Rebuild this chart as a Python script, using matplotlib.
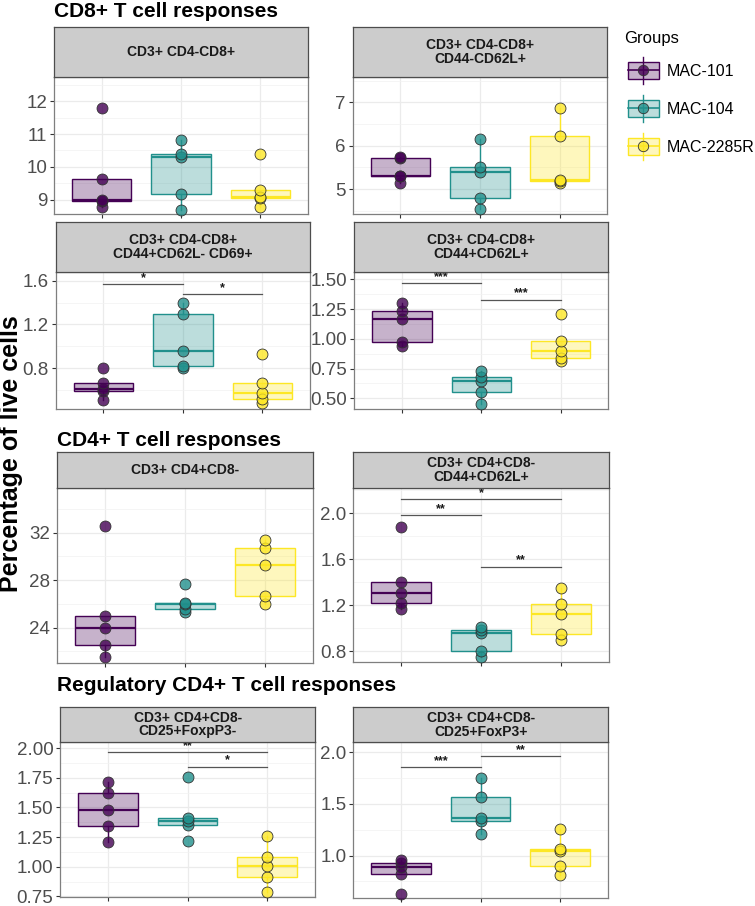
import numpy as np
import matplotlib
matplotlib.use("Agg")
import matplotlib.pyplot as plt
from matplotlib.ticker import FormatStrFormatter, MultipleLocator
from matplotlib.legend_handler import HandlerBase
from matplotlib.patches import Rectangle
from matplotlib.lines import Line2D
from matplotlib.colors import to_rgba

plt.rcParams['font.family'] = ['Liberation Sans', 'DejaVu Sans']

# groups and colours (viridis)
groups = ["MAC-101", "MAC-104", "MAC-2285R"]
colors = ["#440154", "#21908C", "#FDE725"]

# values, one list per group (MAC-101, MAC-104, MAC-2285R)
cd8 = [[8.76, 8.95, 8.98, 9.63, 11.8],
       [8.67, 9.18, 10.31, 10.4, 10.82],
       [8.77, 9.05, 9.08, 9.28, 10.4]]
cd8_cd44n_cd62lp = [[5.15, 5.30, 5.31, 5.72, 5.74],
                    [4.54, 4.80, 5.40, 5.50, 6.15],
                    [5.15, 5.18, 5.20, 6.23, 6.86]]
cd8_cd44p_cd62ln_cd69p = [[0.51, 0.59, 0.61, 0.67, 0.80],
                          [0.80, 0.82, 0.96, 1.30, 1.40],
                          [0.48, 0.52, 0.57, 0.67, 0.93]]
cd8_cd44p_cd62lp = [[0.94, 0.97, 1.17, 1.23, 1.30],
                    [0.45, 0.555, 0.645, 0.675, 0.73],
                    [0.81, 0.84, 0.90, 0.98, 1.21]]
cd4 = [[21.5, 22.5, 24.0, 25.0, 32.6],
       [25.3, 25.6, 26.0, 26.1, 27.7],
       [26.0, 26.7, 29.3, 30.7, 31.4]]
cd4_cd44p_cd62lp = [[1.17, 1.22, 1.31, 1.40, 1.88],
                    [0.755, 0.80, 0.96, 0.985, 1.01],
                    [0.90, 0.95, 1.125, 1.21, 1.35]]
cd4_cd25p_foxp3n = [[1.21, 1.345, 1.48, 1.62, 1.715],
                    [1.22, 1.35, 1.385, 1.415, 1.76],
                    [0.79, 0.91, 1.01, 1.08, 1.26]]
cd4_cd25p_foxp3p = [[0.63, 0.82, 0.89, 0.93, 0.96],
                    [1.21, 1.33, 1.36, 1.57, 1.75],
                    [0.81, 0.90, 1.04, 1.06, 1.26]]

W, H = 755, 906
fig = plt.figure(figsize=(W / 100, H / 100), dpi=100)


def fbox(l, t, r, b):
    return [l / W, 1 - b / H, (r - l) / W, (b - t) / H]


# layout in pixels: plot box (left, top, right, bottom), strip top, y range, ticks
panels = [
    dict(strip="CD3+ CD4-CD8+", data=cd8, box=(54, 77.3, 308, 214.3), stop=26.7,
         ylim=(8.55, 12.73), step=1, fmt="%g", sig=[]),
    dict(strip="CD3+ CD4-CD8+\nCD44-CD62L+", data=cd8_cd44n_cd62lp, box=(352.7, 77.3, 607.3, 214), stop=26.7,
         ylim=(4.425, 7.575), step=1, fmt="%g", sig=[]),
    dict(strip="CD3+ CD4-CD8+\nCD44+CD62L- CD69+", data=cd8_cd44p_cd62ln_cd69p, box=(55.7, 271.7, 310, 409), stop=221.7,
         ylim=(0.428, 1.682), step=0.4, fmt="%.1f", sig=[(1, 2, 1.57, "*"), (2, 3, 1.48, "*")]),
    dict(strip="CD3+ CD4-CD8+\nCD44+CD62L+", data=cd8_cd44p_cd62lp, box=(354.3, 271.7, 608.3, 409), stop=221.7,
         ylim=(0.41, 1.564), step=0.25, fmt="%.2f", sig=[(1, 2, 1.47, "***"), (2, 3, 1.33, "***")]),
    dict(strip="CD3+ CD4+CD8-", data=cd4, box=(56.7, 488.3, 313.3, 662.7), stop=452.3,
         ylim=(21.03, 35.75), step=4, fmt="%g", sig=[]),
    dict(strip="CD3+ CD4+CD8-\nCD44+CD62L+", data=cd4_cd44p_cd62lp, box=(353.3, 488.3, 609, 662.3), stop=452.3,
         ylim=(0.705, 2.215), step=0.4, fmt="%.1f",
         sig=[(1, 3, 2.12, "*"), (1, 2, 1.98, "**"), (2, 3, 1.535, "**")]),
    dict(strip="CD3+ CD4+CD8-\nCD25+FoxpP3-", data=cd4_cd25p_foxp3n, box=(60.3, 742.3, 315, 897.3), stop=706.7,
         ylim=(0.742, 2.05), step=0.25, fmt="%.2f", sig=[(1, 3, 1.97, "**"), (2, 3, 1.845, "*")]),
    dict(strip="CD3+ CD4+CD8-\nCD25+FoxP3+", data=cd4_cd25p_foxp3p, box=(353.3, 742.3, 608, 898.3), stop=706.7,
         ylim=(0.587, 2.094), step=0.5, fmt="%.1f", sig=[(1, 2, 1.855, "***"), (2, 3, 1.96, "**")]),
]

for p in panels:
    l, t, r, b = p["box"]
    ax = fig.add_axes(fbox(l, t, r, b))

    bp = ax.boxplot(p["data"], positions=[1, 2, 3], widths=0.75, patch_artist=True,
                    showfliers=False, showcaps=False, whis=1.5)
    for i, c in enumerate(colors):
        bp["boxes"][i].set_facecolor(to_rgba(c, 0.3))
        bp["boxes"][i].set_edgecolor(c)
        bp["boxes"][i].set_linewidth(1.0)
        bp["medians"][i].set_color(c)
        bp["medians"][i].set_linewidth(1.6)
        for w in bp["whiskers"][2 * i:2 * i + 2]:
            w.set_color(c)
            w.set_linewidth(1.0)
        vals = p["data"][i]
        ax.scatter(np.full(len(vals), i + 1), vals, s=62, color=to_rgba(c, 0.8),
                   edgecolors="#333333", linewidths=0.6, zorder=3, clip_on=False)

    for x1, x2, y, lab in p["sig"]:
        ax.plot([x1, x2], [y, y], color="#555555", lw=0.9, zorder=4)
        ax.text((x1 + x2) / 2, y, lab, ha="center", va="bottom", fontsize=9,
                fontweight="bold", color="#1A1A1A", zorder=4)

    ax.set_xlim(0.4, 3.6)
    ax.set_ylim(*p["ylim"])
    ax.set_xticks([1, 2, 3], labels=["", "", ""])
    ax.yaxis.set_major_locator(MultipleLocator(p["step"]))
    ax.yaxis.set_minor_locator(MultipleLocator(p["step"] / 2))
    ax.yaxis.set_major_formatter(FormatStrFormatter(p["fmt"]))
    ax.grid(True, which="major", color="#EBEBEB", lw=0.9, zorder=0)
    ax.grid(True, which="minor", axis="y", color="#F2F2F2", lw=0.5, zorder=0)
    ax.set_axisbelow(True)
    ax.tick_params(axis="both", which="major", length=3, width=0.8, color="#333333",
                   labelsize=13.5, labelcolor="#4D4D4D", pad=2)
    ax.tick_params(axis="y", which="minor", length=0)
    for s in ax.spines.values():
        s.set_color("#7F7F7F")
        s.set_linewidth(0.9)

    sax = fig.add_axes(fbox(l, p["stop"], r, t))
    sax.set_facecolor("#CCCCCC")
    sax.set_xticks([])
    sax.set_yticks([])
    for s in sax.spines.values():
        s.set_color("#4D4D4D")
        s.set_linewidth(0.9)
    sax.text(0.5, 0.5, p["strip"], ha="center", va="center", fontsize=10,
             fontweight="bold", color="#1A1A1A", linespacing=1.0, transform=sax.transAxes)

# section titles
fig.text(54 / W, 1 - 17 / H, "CD8+ T cell responses", fontsize=15, fontweight="bold", va="baseline")
fig.text(57 / W, 1 - 446 / H, "CD4+ T cell responses", fontsize=15, fontweight="bold", va="baseline")
fig.text(57 / W, 1 - 691 / H, "Regulatory CD4+ T cell responses", fontsize=15, fontweight="bold", va="baseline")

fig.text(11 / W, 1 - 454 / H, "Percentage of live cells", fontsize=18, fontweight="bold",
         rotation=90, ha="center", va="center")


class BoxKey(HandlerBase):
    def create_artists(self, legend, orig_handle, xdescent, ydescent, width, height, fontsize, trans):
        c = orig_handle.get_color()
        x0, y0 = -xdescent + 3, -ydescent
        cx, cy = x0 + width / 2, y0 + height / 2
        whisker = Line2D([cx, cx], [y0 - 0.3 * height, y0 + 1.3 * height], color=c, lw=1.0, transform=trans)
        rect = Rectangle((x0, y0), width, height, facecolor=to_rgba(c, 0.3), edgecolor=c, lw=1.0, transform=trans)
        med = Line2D([x0, x0 + width], [cy, cy], color=c, lw=1.2, transform=trans)
        dot = Line2D([cx], [cy], marker="o", ms=7.5, mfc=to_rgba(c, 0.8), mec="#333333", mew=0.6,
                     ls="none", transform=trans)
        return [whisker, rect, med, dot]


# legend title as plain text, keys below it
fig.text(624 / W, 1 - 39 / H, "Groups", fontsize=12, va="center", ha="left")
handles = [Line2D([], [], color=c) for c in colors]
fig.legend(handles, groups, handler_map={Line2D: BoxKey()}, loc="upper left",
           bbox_to_anchor=(624 / W, 1 - 62 / H), frameon=False,
           fontsize=11.5, handlelength=1.9, handleheight=1.25,
           labelspacing=1.32, handletextpad=0.75, borderpad=0, borderaxespad=0)

fig.savefig("out.png", dpi=100)
